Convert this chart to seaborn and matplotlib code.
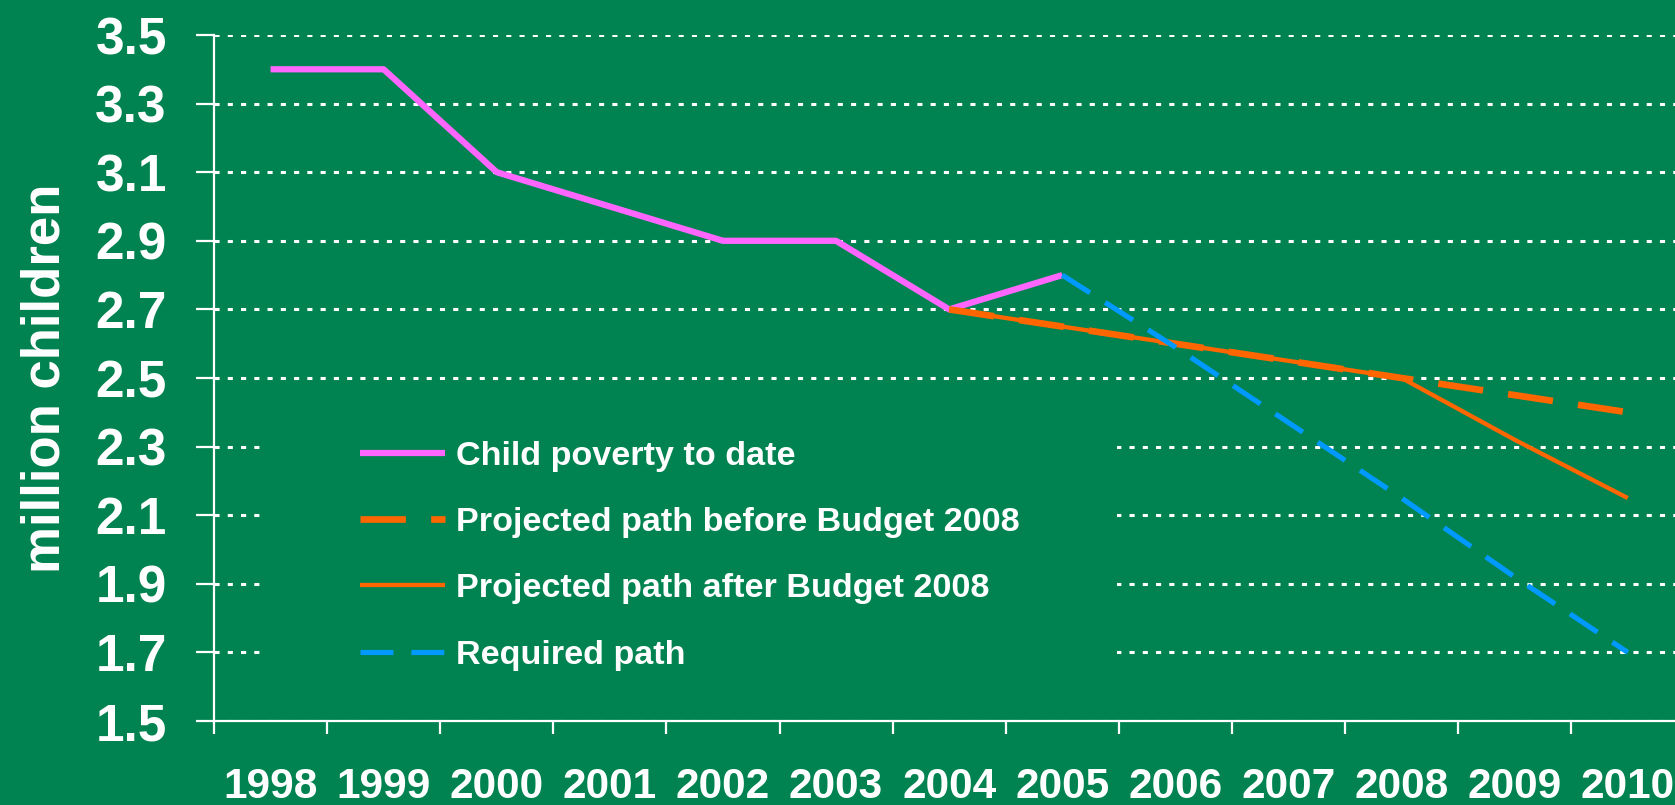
import matplotlib
matplotlib.use("Agg")
import matplotlib.pyplot as plt
import seaborn as sns
import pandas as pd
from matplotlib.patches import Rectangle

# ---- data ----
years = list(range(1998, 2011))
poverty_years = [1998, 1999, 2000, 2001, 2002, 2003, 2004, 2005]
poverty_vals = [3.4, 3.4, 3.1, 3.0, 2.9, 2.9, 2.7, 2.8]
before_years = [2004, 2005, 2006, 2007, 2008, 2009, 2010]
before_vals = [2.7, 2.65, 2.6, 2.55, 2.5, 2.45, 2.4]
after_years = [2004, 2005, 2006, 2007, 2008, 2009, 2010]
after_vals = [2.7, 2.65, 2.6, 2.55, 2.5, 2.32, 2.15]
required_years = [2005, 2006, 2007, 2008, 2009, 2010]
required_vals = [2.8, 2.59, 2.37, 2.15, 1.92, 1.7]
series_names = ["Child poverty to date", "Projected path before Budget 2008",
                "Projected path after Budget 2008", "Required path"]
y_ticks = [1.5, 1.7, 1.9, 2.1, 2.3, 2.5, 2.7, 2.9, 3.1, 3.3, 3.5]

BG = "#008350"
PINK = "#FF66FF"
ORANGE = "#FF6600"
BLUE = "#0099FF"

sns.set_style("white")
plt.rcParams["font.family"] = ["Liberation Sans", "DejaVu Sans"]
plt.rcParams["font.weight"] = "bold"

W, H = 1675, 805
fig = plt.figure(figsize=(W / 100, H / 100), dpi=100)
fig.patch.set_facecolor(BG)
ax_left, ax_right, ax_top, ax_bot = 214, 214 + 113.1 * 13, 35, 721
ax = fig.add_axes([ax_left / W, (H - ax_bot) / H, (ax_right - ax_left) / W, (ax_bot - ax_top) / H])
ax.set_facecolor(BG)

frames = [
    pd.DataFrame({"year": poverty_years, "value": poverty_vals}),
    pd.DataFrame({"year": before_years, "value": before_vals}),
    pd.DataFrame({"year": after_years, "value": after_vals}),
    pd.DataFrame({"year": required_years, "value": required_vals}),
]
styles = [
    dict(color=PINK, lw=4.5, linestyle="-"),
    dict(color=ORANGE, lw=4.8, linestyle=(0, (6.8, 3.8))),
    dict(color=ORANGE, lw=3.1, linestyle="-"),
    dict(color=BLUE, lw=3.7, linestyle=(0, (6.4, 3.5))),
]
zorders = [3, 5, 4, 6]
for df, st, name, z in zip(frames, styles, series_names, zorders):
    sns.lineplot(data=df, x="year", y="value", ax=ax, label=name, zorder=z,
                 solid_capstyle="butt", dash_capstyle="butt", **st)

ax.set_xlim(1997.5, 2010.5)
ax.set_ylim(1.5, 3.5)
ax.set_yticks(y_ticks)
ax.set_yticklabels([f"{v:.1f}" for v in y_ticks])
ax.set_xticks(years)
ax.set_xticklabels([str(y) for y in years])
ax.set_xticks([y + 0.5 for y in years[:-1]] + [1997.5], minor=True)
ax.tick_params(axis="x", which="major", length=0, pad=33, labelsize=30.5, labelcolor="white")
ax.tick_params(axis="x", which="minor", length=9.5, width=1.6, color="white", direction="out", bottom=True)
ax.tick_params(axis="y", which="major", length=13, width=1.6, color="white", direction="out",
               pad=21, labelsize=37, labelcolor="white", left=True)
for lab in ax.get_xticklabels() + ax.get_yticklabels():
    lab.set_fontweight("bold")

ax.set_xlabel("")
ax.set_ylabel("million children", fontsize=38, fontweight="bold", color="white", labelpad=18)

for s in ["top", "right"]:
    ax.spines[s].set_visible(False)
for s in ["left", "bottom"]:
    ax.spines[s].set_color("white")
    ax.spines[s].set_linewidth(1.6)

ax.set_axisbelow(True)
ax.yaxis.grid(True, color="white", linewidth=2.2, linestyle=(0, (1.67, 2.67)))
ax.xaxis.grid(False)

# legend background mask (hides gridlines behind legend)
mask_x0 = (267 - ax_left) / (ax_right - ax_left)
mask_x1 = (1117 - ax_left) / (ax_right - ax_left)
ax.add_patch(Rectangle((mask_x0, 0.03), mask_x1 - mask_x0, 0.416, transform=ax.transAxes,
                       facecolor=BG, edgecolor="none", zorder=1))
leg = ax.legend(loc="upper left",
                bbox_to_anchor=((360 - ax_left) / (ax_right - ax_left), (ax_bot - 441) / (ax_bot - ax_top)),
                frameon=False, fontsize=24.6, handlelength=2.5, handletextpad=0.3,
                labelspacing=1.03, borderpad=0, borderaxespad=0)
for t in leg.get_texts():
    t.set_color("white")
    t.set_fontweight("bold")

fig.savefig("out.png", dpi=100, facecolor=BG)
